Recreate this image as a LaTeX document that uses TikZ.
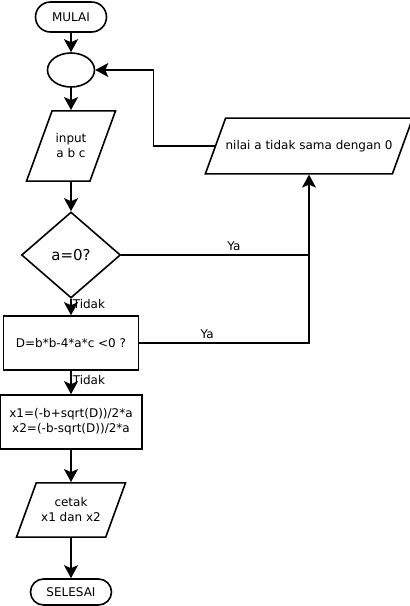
\documentclass[tikz,border=0pt]{standalone}
\usepackage{fontspec}
\setmainfont{DejaVu Sans}
\usetikzlibrary{arrows.meta,shapes.geometric}
\tikzset{%
  >={Stealth[width=14pt,length=13pt,inset=3pt]},
  % Specifications for style of nodes:
            base/.style = {draw=black, line width=1.6pt, align=center,
                           font=\fontsize{12}{15}\selectfont},
       startstop/.style = {base, rectangle, minimum height=30pt,
                           rounded corners=15pt},
       connector/.style = {base, ellipse, inner sep=0pt,
                           minimum width=47pt, minimum height=34pt},
              io/.style = {base, trapezium, trapezium left angle=70,
                           trapezium right angle=110, trapezium stretches body,
                           inner xsep=0pt},
        decision/.style = {base, diamond, minimum width=99pt, minimum height=86pt,
                           font=\fontsize{15}{17}\selectfont},
         process/.style = {base, rectangle, minimum height=54pt},
}

\begin{document}
\begin{tikzpicture}[node distance=80pt, line width=1.6pt,
    every node/.style={font=\fontsize{12}{15}\selectfont}]
  \useasboundingbox (0,0) rectangle (410pt,-606pt);
  % Specification of nodes (position, etc.)

  \node (mulai)    [startstop, minimum width=71pt] at (71pt,-17pt) {MULAI};
  \node (circ)     [connector, below of=mulai, yshift=27pt] {};
  \node (input)    [io, below of=circ, yshift=4pt, minimum width=89pt, inner ysep=23pt] {input\\a b c};
  \node (cek)      [decision, below of=input, yshift=-29pt] {a=0?};
  \node (disc)     [process, below of=cek, yshift=-8pt, minimum width=135pt] {D=b*b-4*a*c <0 ?};
  \node (hitung)   [process, below of=disc, yshift=1pt, minimum width=142pt] {x1=(-b+sqrt(D))/2*a\\x2=(-b-sqrt(D))/2*a};
  \node (cetak)    [io, below of=hitung, yshift=-8pt, minimum width=109pt, inner ysep=15pt] {cetak\\x1 dan x2};
  \node (selesai)  [startstop, below of=cetak, yshift=-2pt, minimum width=81pt,
                    minimum height=26pt, rounded corners=13pt] {SELESAI};
  \node (nilai)    [io, right of=input, xshift=158pt, minimum width=204pt, inner ysep=22pt] {nilai a tidak sama dengan 0};

  \draw[->]        (mulai) -- (circ);
  \draw[->]        (circ) -- (input);
  \draw[->]        (input) -- (cek);
  \draw[->]        (cek) -- (disc) node[pos=.3, right, inner sep=1pt] {Tidak};
  \draw[->]        (disc) -- (hitung) node[pos=.4, right, inner sep=1pt] {Tidak};
  \draw[->]        (hitung) -- (cetak);
  \draw[->]        (cetak) -- (selesai);
  \draw            (cek.east) -- node[pos=.6, above] {Ya} (cek.east -| nilai.south);
  \draw[->]        (disc.east) -| node[pos=.2, above] {Ya} (nilai.south);
  \draw[->]        (nilai.west) -- ++(-61pt,0) |- (circ.east);
\end{tikzpicture}
\end{document}
